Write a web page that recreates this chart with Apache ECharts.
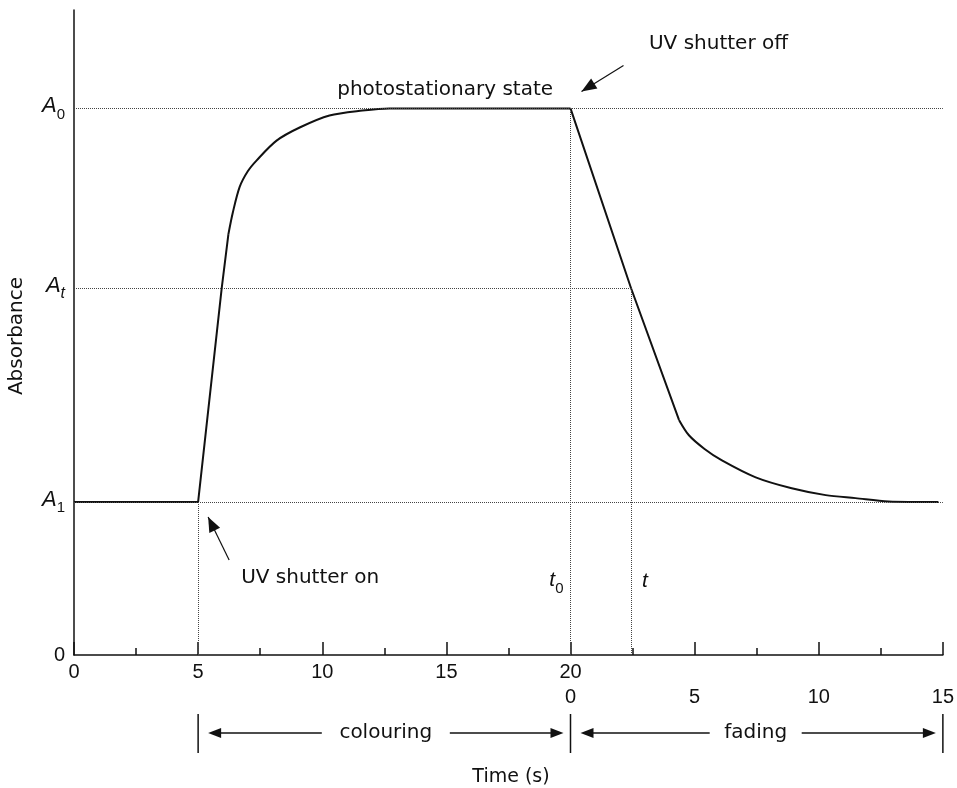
<!DOCTYPE html>
<html>
<head>
<meta charset="utf-8">
<script src="https://cdn.jsdelivr.net/npm/echarts@6/dist/echarts.min.js"></script>
<style>
  html, body { margin: 0; background: #fff; }
  .box { width: 957px; height: 788px; }
</style>
</head>
<body>
<div class="box"></div>
<script>
// absorbance levels (arbitrary units, 0 .. A0 = 1)
const A1 = 0.28, At = 0.671, A0 = 1.0;
const shutterOn = 5, shutterOff = 20, tRead = 22.44, tEnd = 35;

// colouring phase (UV on at 5 s): straight rise, then bend to the plateau
const colouringRise = [[0, 0.28], [5, 0.28], [5.95, 0.671], [6.22, 0.77]];
const colouringCurve = [
    [6.22, 0.77], [6.4, 0.81], [6.67, 0.856], [7.0, 0.885], [7.36, 0.905],
    [8.16, 0.941], [9.09, 0.965], [10.29, 0.987], [11.62, 0.996], [12.7, 1.0], [20, 1.0]
];
// fading phase (UV off at 20 s): straight drop, then decay tail
const fadingDrop = [[20, 1.0], [22.44, 0.671], [24.37, 0.43]];
const fadingCurve = [
    [24.37, 0.43], [24.77, 0.402], [25.4, 0.377], [26.1, 0.356], [27.46, 0.325],
    [28.91, 0.305], [30.28, 0.2925], [31.48, 0.287], [32.81, 0.281], [34.82, 0.28]
];
const yLevels = [0, A1, At, A0];
const yLabels = ['{n|0}', '{a|A}{s|1}', '{a|A}{si|t}', '{a|A}{s|0}'];
const phaseEdges = [shutterOn, shutterOff, tEnd];
const phaseNames = ['colouring', 'fading'];

const chartDom = document.getElementsByClassName('box')[0];
const myChart = echarts.init(chartDom);
const TXT = 'DejaVu Sans';
const NUM = 'Liberation Sans';

function curve(data, smooth) {
    return {
        type: 'line',
        data: data,
        showSymbol: false,
        smooth: smooth ? 0.3 : false,
        lineStyle: { color: '#111', width: 2 },
        z: 3
    };
}

const option = {
    animation: false,
    grid: { left: 74, right: 13, top: 10, bottom: 133 },
    xAxis: {
        type: 'value',
        min: 0, max: tEnd, interval: 5,
        axisLine: { lineStyle: { color: '#111', width: 1.5 } },
        axisTick: { inside: true, length: 13, lineStyle: { color: '#111', width: 1.5 } },
        minorTick: { show: true, splitNumber: 2, length: 7, lineStyle: { color: '#111', width: 1.5 } },
        splitLine: { show: false },
        axisLabel: {
            color: '#111', fontFamily: NUM, fontSize: 20, margin: 5, lineHeight: 25,
            showMinLabel: true, showMaxLabel: true,
            formatter: function (v) {
                if (v < shutterOff) return String(v);
                if (v === shutterOff) return shutterOff + '\n0';
                return '\n' + (v - shutterOff);
            }
        }
    },
    yAxis: {
        type: 'value',
        min: 0, max: 1.18,
        axisLine: { show: true, lineStyle: { color: '#111', width: 1.5 } },
        axisTick: { show: false },
        splitLine: { show: false },
        axisLabel: {
            customValues: yLevels,
            margin: 9,
            color: '#111',
            formatter: function (v) {
                return yLabels[yLevels.indexOf(v)];
            },
            rich: {
                n: { fontFamily: NUM, fontSize: 20, verticalAlign: 'bottom' },
                a: { fontFamily: NUM, fontSize: 22, fontStyle: 'italic', verticalAlign: 'bottom', padding: [0, 0, 5, 0] },
                s: { fontFamily: NUM, fontSize: 15, verticalAlign: 'bottom' },
                si: { fontFamily: NUM, fontSize: 16, fontStyle: 'italic', verticalAlign: 'bottom' }
            }
        }
    },
    series: [
        Object.assign(curve(colouringRise, false), {
            markLine: {
                silent: true,
                symbol: 'none',
                label: { show: false },
                lineStyle: { type: 'dotted', color: '#444', width: 1 },
                data: [
                    [{ coord: [0, A0] }, { coord: [tEnd, A0] }],
                    [{ coord: [0, At] }, { coord: [tRead, At] }],
                    [{ coord: [0, A1] }, { coord: [tEnd, A1] }],
                    [{ coord: [shutterOn, 0] }, { coord: [shutterOn, A1] }],
                    [{ coord: [shutterOff, 0] }, { coord: [shutterOff, A0] }],
                    [{ coord: [tRead, 0] }, { coord: [tRead, At] }]
                ]
            }
        }),
        curve(colouringCurve, true),
        curve(fadingDrop, false),
        curve(fadingCurve, true)
    ]
};

myChart.setOption(option);

// annotations, positioned from the axes
function px(p) { return myChart.convertToPixel({ gridIndex: 0 }, p); }
function arrowHead(tip, tail, len, half) {
    const dx = tip[0] - tail[0], dy = tip[1] - tail[1];
    const d = Math.sqrt(dx * dx + dy * dy);
    const ux = dx / d, uy = dy / d;
    const bx = tip[0] - ux * len, by = tip[1] - uy * len;
    return {
        type: 'polygon', z: 10,
        shape: { points: [tip, [bx - uy * half, by + ux * half], [bx + uy * half, by - ux * half]] },
        style: { fill: '#111' }
    };
}
function seg(a, b, w) {
    return { type: 'line', z: 10, shape: { x1: a[0], y1: a[1], x2: b[0], y2: b[1] }, style: { stroke: '#111', lineWidth: w || 1.5 } };
}
function label(text, x, y, size, extra) {
    return {
        type: 'text', z: 10, x: x, y: y,
        style: Object.assign({ text: text, fill: '#111', font: size + 'px "' + TXT + '"', align: 'center', verticalAlign: 'middle' }, extra || {})
    };
}

const g = [];
const pOn = px([shutterOn, A1]);
const pOff = px([shutterOff, A0]);
const pRead = px([tRead, 0]);

// UV shutter off
const offTip = [pOff[0] + 11, pOff[1] - 17], offTail = [pOff[0] + 53, pOff[1] - 43];
g.push(seg(offTail, offTip, 1.2), arrowHead(offTip, offTail, 15, 6));
g.push(label('UV shutter off', pOff[0] + 148, pOff[1] - 65, 20));
g.push(label('photostationary state', px([14.95, A0])[0], pOff[1] - 19, 20));

// UV shutter on
const onTip = [pOn[0] + 10, pOn[1] + 15], onTail = [pOn[0] + 31, pOn[1] + 58];
g.push(seg(onTail, onTip, 1.2), arrowHead(onTip, onTail, 15, 6));
g.push(label('UV shutter on', pOn[0] + 112, pOn[1] + 76, 20));

// t0 and t
g.push({
    type: 'text', z: 10, x: pOff[0] - 7, y: pOn[1] + 81,
    style: {
        text: '{i|t}{s|0}', align: 'right', verticalAlign: 'middle', fill: '#111',
        rich: {
            i: { fontFamily: NUM, fontSize: 21, fontStyle: 'italic', verticalAlign: 'bottom', padding: [0, 0, 5, 0] },
            s: { fontFamily: NUM, fontSize: 15, verticalAlign: 'bottom' }
        }
    }
});
g.push({
    type: 'text', z: 10, x: pRead[0] + 11, y: pOn[1] + 79,
    style: { text: 't', fill: '#111', font: 'italic 21px "' + NUM + '"', align: 'left', verticalAlign: 'middle' }
});

// Absorbance axis title
g.push(label('Absorbance', 17, 336, 20, {}));
g[g.length - 1].rotation = Math.PI / 2;

// phase brackets below the axis
const yMid = 733;
const edgesX = phaseEdges.map(function (v) { return px([v, 0])[0]; });
edgesX.forEach(function (x) { g.push(seg([x, 714], [x, 753], 1.5)); });
for (let i = 0; i < phaseNames.length; i++) {
    const x0 = edgesX[i], x1 = edgesX[i + 1];
    const cx = phaseNames[i] === 'colouring' ? (x0 + x1) / 2 + 1.5 : (x0 + x1) / 2 - 1;
    const half = phaseNames[i] === 'colouring' ? 64 : 46;
    const lt = [x0 + 10, yMid], rt = [x1 - 7, yMid];
    g.push(seg([cx - half, yMid], [lt[0] + 10, yMid]), arrowHead(lt, [cx, yMid], 13, 5));
    g.push(seg([cx + half, yMid], [rt[0] - 10, yMid]), arrowHead(rt, [cx, yMid], 13, 5));
    g.push(label(phaseNames[i], cx, yMid, 20));
}

// Time axis title
g.push(label('Time (s)', 511, 777, 19));

myChart.setOption({ graphic: g });
</script>
</body>
</html>
